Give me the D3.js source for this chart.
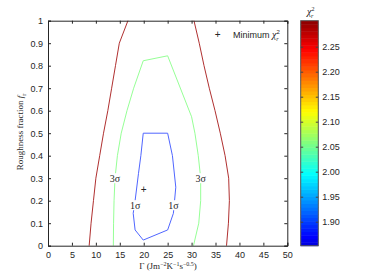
<!DOCTYPE html>
<html>
<head>
<meta charset="utf-8">
<script src="https://cdn.jsdelivr.net/npm/d3@7"></script>
<style>
  body { margin: 0; background: #fff; }
  svg text { fill: #262626; }
</style>
</head>
<body>
<svg id="chart" width="368" height="277"></svg>
<script>
// 数据：等值线（Γ, f_r）
var xTicks = [0, 5, 10, 15, 20, 25, 30, 35, 40, 45, 50];
var yTicks = [0, 0.1, 0.2, 0.3, 0.4, 0.5, 0.6, 0.7, 0.8, 0.9, 1];
var cbTicks = [1.90, 1.95, 2.00, 2.05, 2.10, 2.15, 2.20, 2.25];
var cbRange = [1.852, 2.302];

var redLeft = [[8.6, 0], [9.0, 0.1], [9.5, 0.2], [10.0, 0.3], [10.8, 0.4], [11.6, 0.5],
  [12.5, 0.6], [13.3, 0.7], [14.1, 0.8], [14.9, 0.9], [16.7, 1.0]];
var redRight = [[30.5, 1.0], [31.6, 0.9], [32.6, 0.8], [33.7, 0.7], [34.9, 0.6], [36.0, 0.5],
  [37.0, 0.4], [37.75, 0.3], [37.9, 0.2], [37.7, 0.1], [37.3, 0]];
var green = [[13.65, 0], [13.7, 0.1], [13.8, 0.2], [14.0, 0.3], [14.5, 0.4], [15.3, 0.5],
  [16.5, 0.6], [17.9, 0.7], [19.9, 0.822], [25.0, 0.844], [30.0, 0.573], [30.7, 0.5],
  [31.4, 0.4], [31.9, 0.3], [31.9, 0.2], [31.5, 0.1], [30.4, 0]];
var blue = [[19.9, 0.5], [25.0, 0.5], [26.0, 0.4], [26.7, 0.26], [26.2, 0.144], [25.0, 0.07],
  [19.9, 0.025], [18.2, 0.07], [17.8, 0.144], [18.2, 0.2], [18.9, 0.32], [19.4, 0.4], [19.9, 0.5]];
var sigmaLabels = [["3σ", 14.0, 0.3], ["3σ", 31.9, 0.3], ["1σ", 18.2, 0.18], ["1σ", 26.2, 0.18]];
var minimum = [20, 0.25];

var svg = d3.select("#chart");
var L = 48, R = 287.3, T = 20.7, B = 245.7;
var x = d3.scaleLinear().domain([0, 50]).range([L, R]);
var y = d3.scaleLinear().domain([0, 1]).range([B, T]);
var sans = "Liberation Sans, Arial, sans-serif";
var serif = "Liberation Serif, Times New Roman, serif";

// jet 颜色映射
function jet(t) {
  function c(v) { return Math.max(0, Math.min(1, v)); }
  var r = c(Math.min(4 * t - 1.5, -4 * t + 4.5));
  var g = c(Math.min(4 * t - 0.5, -4 * t + 3.5));
  var b = c(Math.min(4 * t + 0.5, -4 * t + 2.5));
  return d3.rgb(r * 255, g * 255, b * 255);
}
function valueToT(v) { return 0.375 + (v - 1.995) * 2.0; }

// 等值线
var line = d3.line().x(function (d) { return x(d[0]); }).y(function (d) { return y(d[1]); });
var g = svg.append("g");
g.append("path").datum(redLeft).attr("d", line).attr("fill", "none").attr("stroke", "#b03030").attr("stroke-width", 1);
g.append("path").datum(redRight).attr("d", line).attr("fill", "none").attr("stroke", "#b03030").attr("stroke-width", 1);
g.append("path").datum(green).attr("d", line).attr("fill", "none").attr("stroke", "#96ff96").attr("stroke-width", 1);
g.append("path").datum(blue).attr("d", line).attr("fill", "none").attr("stroke", "#5066ff").attr("stroke-width", 1);

// 等值线标注，白底遮住线条
sigmaLabels.forEach(function (d) {
  g.append("rect").attr("x", x(d[1]) - 6).attr("y", y(d[2]) - 5).attr("width", 12).attr("height", 10).attr("fill", "#fff");
  g.append("text").attr("x", x(d[1])).attr("y", y(d[2]) + 3.5).attr("text-anchor", "middle")
    .style("font-family", serif).style("font-size", "10px").text(d[0]);
});

// 最小值
g.append("text").attr("x", x(minimum[0])).attr("y", y(minimum[1]) + 3.5).attr("text-anchor", "middle")
  .style("font-family", sans).style("font-size", "10px").text("+");

// 坐标轴（刻度朝内）
var xAxis = svg.append("g").attr("transform", "translate(0," + B + ")")
  .call(d3.axisBottom(x).tickValues(xTicks).tickSize(-3).tickPadding(6).tickFormat(d3.format("d")));
var xTop = svg.append("g").attr("transform", "translate(0," + T + ")")
  .call(d3.axisTop(x).tickValues(xTicks).tickSize(-3).tickFormat(""));
var yAxis = svg.append("g").attr("transform", "translate(" + L + ",0)")
  .call(d3.axisLeft(y).tickValues(yTicks).tickSize(-3).tickPadding(5).tickFormat(function (d) { return d === 0 || d === 1 ? d : d3.format(".1f")(d); }));
var yRight = svg.append("g").attr("transform", "translate(" + R + ",0)")
  .call(d3.axisRight(y).tickValues(yTicks).tickSize(-3).tickFormat(""));
[xAxis, xTop, yAxis, yRight].forEach(function (a) {
  a.select(".domain").attr("stroke", "#262626");
  a.selectAll(".tick line").attr("stroke", "#262626");
  a.selectAll("text").style("font-family", sans).style("font-size", "9px").attr("fill", "#262626");
});

// 图例
svg.append("text").attr("x", 217.7).attr("y", 38).attr("text-anchor", "middle")
  .style("font-family", sans).style("font-size", "10px").text("+");
var leg = svg.append("text").attr("x", 233).attr("y", 38).style("font-family", sans).style("font-size", "9px");
leg.append("tspan").text("Minimum ");
leg.append("tspan").style("font-family", serif).style("font-style", "italic").style("font-size", "10px").text("χ");
leg.append("tspan").attr("dy", -4).style("font-size", "6px").text("2");
leg.append("tspan").attr("dx", -3.5).attr("dy", 6.5).style("font-size", "6px").style("font-family", serif).style("font-style", "italic").text("r");

// 轴标题
var xl = svg.append("text").attr("x", 168).attr("y", 269).attr("text-anchor", "middle")
  .style("font-family", serif).style("font-size", "9px");
xl.append("tspan").text("Γ  (Jm");
xl.append("tspan").attr("dy", -3.5).style("font-size", "6px").text("−2");
xl.append("tspan").attr("dy", 3.5).text("K");
xl.append("tspan").attr("dy", -3.5).style("font-size", "6px").text("−1");
xl.append("tspan").attr("dy", 3.5).text("s");
xl.append("tspan").attr("dy", -3.5).style("font-size", "6px").text("−0.5");
xl.append("tspan").attr("dy", 3.5).text(")");

var yl = svg.append("text").attr("transform", "translate(23,132) rotate(-90)").attr("text-anchor", "middle")
  .style("font-family", serif).style("font-size", "9px");
yl.append("tspan").text("Roughness fraction ");
yl.append("tspan").style("font-style", "italic").text("f");
yl.append("tspan").attr("dy", 2.5).style("font-size", "6px").text("r");

// 色条
var cbL = 300.7, cbW = 17.6;
var cy = d3.scaleLinear().domain(cbRange).range([B, T]);
var nBands = 64;
var bands = d3.range(nBands);
svg.append("g").selectAll("rect").data(bands).join("rect")
  .attr("x", cbL)
  .attr("y", function (i) { return cy(cbRange[0] + (i + 1) * (cbRange[1] - cbRange[0]) / nBands); })
  .attr("width", cbW)
  .attr("height", (B - T) / nBands + 0.5)
  .attr("fill", function (i) { return jet(valueToT(cbRange[0] + (i + 0.5) * (cbRange[1] - cbRange[0]) / nBands)); });
svg.append("rect").attr("x", cbL).attr("y", T).attr("width", cbW).attr("height", B - T)
  .attr("fill", "none").attr("stroke", "#555").attr("stroke-width", 1);
var cbAxis = svg.append("g").attr("transform", "translate(" + (cbL + cbW) + ",0)")
  .call(d3.axisRight(cy).tickValues(cbTicks).tickSize(-2.5).tickPadding(4).tickFormat(d3.format(".2f")));
var cbAxisL = svg.append("g").attr("transform", "translate(" + cbL + ",0)")
  .call(d3.axisLeft(cy).tickValues(cbTicks).tickSize(-2.5).tickFormat(""));
[cbAxis, cbAxisL].forEach(function (a) {
  a.select(".domain").remove();
  a.selectAll(".tick line").attr("stroke", "#444");
  a.selectAll("text").style("font-family", sans).style("font-size", "9px").attr("fill", "#262626");
});
var ct = svg.append("text").attr("x", 307).attr("y", 15).style("font-family", serif).style("font-size", "10px");
ct.append("tspan").style("font-style", "italic").text("χ");
ct.append("tspan").attr("dy", -4).style("font-size", "6px").text("2");
ct.append("tspan").attr("dx", -3.5).attr("dy", 6.5).style("font-size", "6px").style("font-style", "italic").text("r");
</script>
</body>
</html>
